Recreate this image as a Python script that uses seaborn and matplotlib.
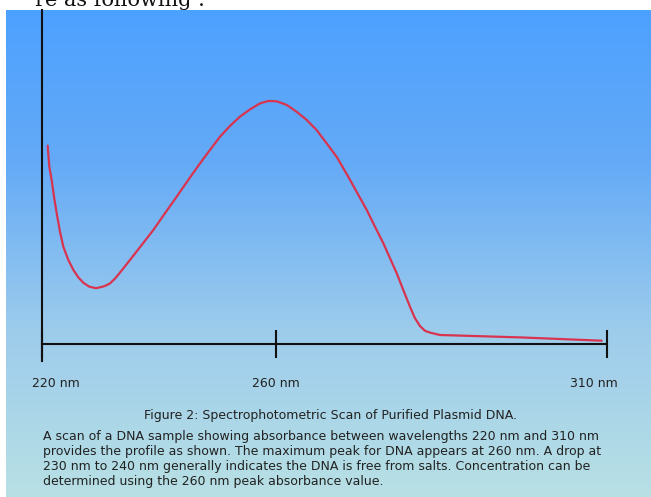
import numpy as np
import pandas as pd
import matplotlib
matplotlib.use("Agg")
import matplotlib.pyplot as plt
import matplotlib.transforms as mtransforms
from matplotlib.colors import LinearSegmentedColormap
import seaborn as sns

# absorbance scan
wavelength = [220.97, 221.25, 221.65, 222.05, 222.51, 223.08, 223.65, 224.50,
              225.36, 226.21, 227.07, 228.09, 229.23, 230.37, 230.94, 231.62,
              232.48, 233.33, 235.04, 237.04, 239.03, 241.03, 243.02, 245.01,
              247.01, 248.72, 250.43, 252.14, 253.85, 255.56, 257.26, 258.69,
              260.10, 261.61, 263.12, 264.63, 266.14, 267.65, 269.16, 270.17,
              271.18, 272.44, 273.70, 274.95, 276.21, 277.22, 278.23, 279.23,
              280.24, 280.99, 281.75, 282.50, 283.26, 284.77, 296.86, 309.20]
absorbance = [0.661, 0.591, 0.547, 0.491, 0.436, 0.374, 0.324, 0.280,
              0.247, 0.222, 0.204, 0.191, 0.186, 0.191, 0.195, 0.202,
              0.218, 0.238, 0.280, 0.330, 0.380, 0.436, 0.491, 0.547,
              0.602, 0.647, 0.691, 0.727, 0.758, 0.782, 0.802, 0.810,
              0.809, 0.797, 0.774, 0.747, 0.713, 0.669, 0.624, 0.586,
              0.547, 0.497, 0.447, 0.391, 0.336, 0.286, 0.236, 0.180,
              0.124, 0.086, 0.060, 0.044, 0.038, 0.030, 0.022, 0.011]

tick_values = [220, 260, 310]
tick_labels = ["220 nm", "260 nm", "310 nm"]

caption = "Figure 2: Spectrophotometric Scan of Purified Plasmid DNA."
paragraph = ("A scan of a DNA sample showing absorbance between wavelengths 220 nm and 310 nm\n"
             "provides the profile as shown. The maximum peak for DNA appears at 260 nm. A drop at\n"
             "230 nm to 240 nm generally indicates the DNA is free from salts. Concentration can be\n"
             "determined using the 260 nm peak absorbance value.")

df = pd.DataFrame({"wavelength": wavelength, "absorbance": absorbance})

sns.set_style("white")
plt.rcParams["font.family"] = ["DejaVu Sans"]

W, H = 651, 497
fig = plt.figure(figsize=(W / 100, H / 100), dpi=100)
fig.patch.set_facecolor("white")

# gradient panel behind the chart
bg = fig.add_axes([6 / W, 0, (W - 6) / W, (H - 10) / H])
grad = LinearSegmentedColormap.from_list(
    "panel", [(0.0, "#4da1ff"), (0.31, "#64aaf7"), (0.66, "#9dccec"), (1.0, "#b8e0e4")])
bg.imshow(np.linspace(0, 1, 256).reshape(-1, 1), aspect="auto", cmap=grad,
          extent=[0, 1, 1, 0])
bg.set_axis_off()

# tail of the sentence above the figure, cut by the page edge
fig.text(205 / W, (H - 6) / H, "re as following :", family="DejaVu Serif",
         fontsize=15, ha="right", va="baseline", color="#111111")

# chart axes
ax = fig.add_axes([42 / W, (H - 361) / H, 565 / W, 351 / H])
ax.patch.set_alpha(0)

# uneven spacing of the printed wavelength axis
px = [0, 234, 565]
ax.set_xscale("function", functions=(lambda v: np.interp(v, tick_values, px),
                                     lambda v: np.interp(v, px, tick_values)))

sns.lineplot(data=df, x="wavelength", y="absorbance", ax=ax, color="#d8344f",
             linewidth=1.6, sort=False, solid_joinstyle="round",
             solid_capstyle="round")

ax.set_xlim(220, 310)
ax.set_ylim(-0.0567, 1.1133)
ax.set_xlabel("")
ax.set_ylabel("")
ax.set_yticks([])
ax.set_xticks(tick_values)
ax.set_xticklabels(tick_labels)
ax.tick_params(axis="x", bottom=True, direction="inout", length=19.5, width=1.5,
               color="#111111", labelsize=9, labelcolor="#222222", pad=14)

for side in ["top", "right"]:
    ax.spines[side].set_visible(False)
ax.spines["bottom"].set_position(("data", 0))
for side in ["left", "bottom"]:
    ax.spines[side].set_linewidth(1.5)
    ax.spines[side].set_color("#111111")

for lab, dx in zip(ax.get_xticklabels(), [14, 0, -13]):
    lab.set_transform(lab.get_transform() +
                      mtransforms.ScaledTranslation(dx / 100, 0, fig.dpi_scale_trans))

fig.text(331 / W, (H - 416) / H, caption, fontsize=9, ha="center", va="center",
         color="#222222")
fig.text(43 / W, (H - 430) / H, paragraph, fontsize=9, ha="left", va="top",
         color="#222222", linespacing=1.2)

fig.savefig("out.png", dpi=100)
